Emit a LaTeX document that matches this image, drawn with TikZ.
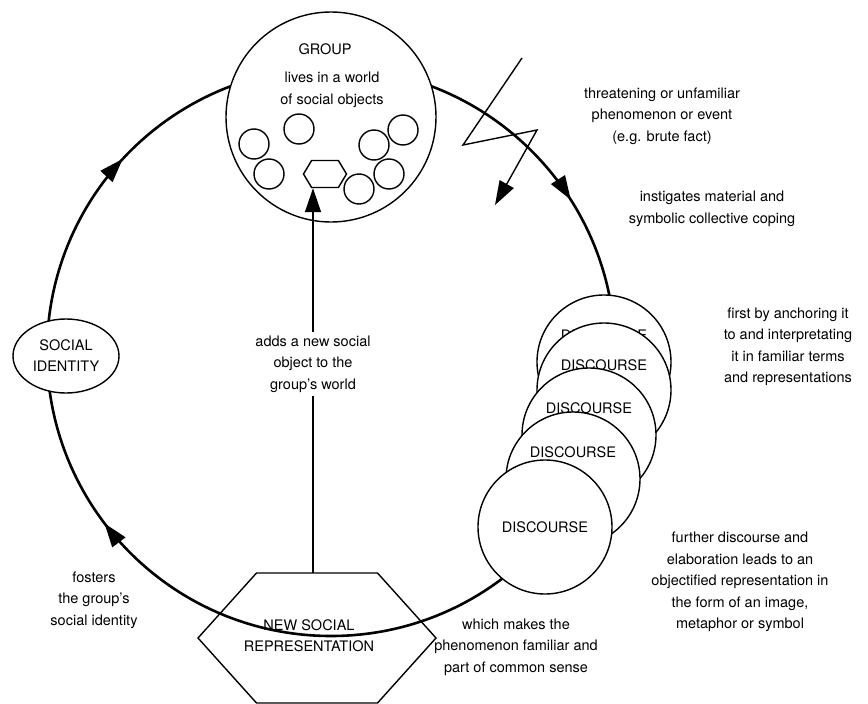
\documentclass[tikz,border=0pt]{standalone}
\usepackage{fontspec}
\setmainfont{TeX Gyre Heros}
\usetikzlibrary{arrows.meta,shapes.geometric,shapes.symbols,decorations.markings}

\begin{document}
\begin{tikzpicture}[x=1pt, y=-1pt, >={Triangle[length=24pt,width=16pt]},
  txt/.style={align=center, font=\fontsize{14.5}{21.5}\selectfont},
  caps/.style={align=center, font=\fontsize{14.5}{21}\selectfont},
  fine/.style={line width=1.4pt},
  disc/.style={circle, draw, fine, fill=white, minimum size=134pt, inner sep=0pt},
  obj/.style={circle, draw, fine, minimum size=30pt, inner sep=0pt},
  hexa/.style={signal, signal to=west and east, draw, fine, inner sep=0pt}]

  \useasboundingbox (0,0) rectangle (868,704);

  % the cycle, running clockwise
  \draw[line width=2.6pt, postaction={decorate}, decoration={markings,
      mark=at position 0.397 with {\arrow{>}},
      mark=at position 0.619 with {\arrow{>}},
      mark=at position 0.910 with {\arrow{>}}}]
    (331,352) circle[radius=284];

  % stacked discourse
  \foreach \x/\y/\s [count=\i] in {604/362/27, 604/390/25, 589/435/27, 573/479/27, 545/527/0} {
    \node[disc] (disc\i) at (\x,\y) {};
    \node[caps] (disclabel\i) at ([yshift=\s pt]disc\i.center) {DISCOURSE};
  }

  % the group and its world
  \node[circle, draw, fine, fill=white, minimum size=210pt] (grp) at (331,117) {};
  \node[caps] (grplabel) at (325,49) {GROUP};
  \node[txt] (world) at (332,90) {lives in a world\\of social objects};
  \foreach \x/\y [count=\i] in {299/129, 254/144, 269/174, 374/145, 403/130, 389/174, 359/189}
    \node[obj] (obj\i) at (\x,\y) {};
  \node[hexa, signal pointer angle=118, minimum width=43pt, minimum height=27pt] (newobj) at (325,174) {};

  % threatening event
  \coordinate (bolt) at (522,58);
  \draw[fine, ->] (bolt) -- (463,145) -- (537,130) -- (495,205);

  \node[caps, ellipse, draw, fine, fill=white, minimum width=106pt, minimum height=74pt,
    inner sep=0pt] (sid) at (66,356) {SOCIAL\\IDENTITY};

  % new social representation (wide hexagon)
  \coordinate (nsrmid) at (317,638);
  \draw[fine] (nsrmid) ++(-119,0) -- ++(58.5,-65) coordinate (nsrtop) -- ++(121,0)
    -- ++(58.5,65) -- ++(-58.5,65) -- ++(-121,0) -- cycle;
  \node[caps] (nsr) at (309,636) {NEW SOCIAL\\REPRESENTATION};

  \node[txt] (adds) at (313,364) {adds a new social\\object to the\\group's world};
  \draw[fine] (adds.south |- nsrtop) -- (adds.south);
  \draw[fine, ->] (adds.north) -- (adds.north |- newobj.south);

  % commentary
  \node[txt] (threat) at (662,116) {threatening or unfamiliar\\phenomenon or event\\(e.g. brute fact)};
  \node[txt] (coping) at (712,209) {instigates material and\\symbolic collective coping};
  \node[txt] (anchor) at (788,347) {first by anchoring it\\to and interpretating\\it in familiar terms\\and representations};
  \node[txt] (objectify) at (740,582) {further discourse and\\elaboration leads to an\\objectified representation in\\the form of an image,\\metaphor or symbol};
  \node[txt] (familiar) at (516,647) {which makes the\\phenomenon familiar and\\part of common sense};
  \node[txt] (fosters) at (94,600) {fosters\\the group's\\social identity};

\end{tikzpicture}
\end{document}
